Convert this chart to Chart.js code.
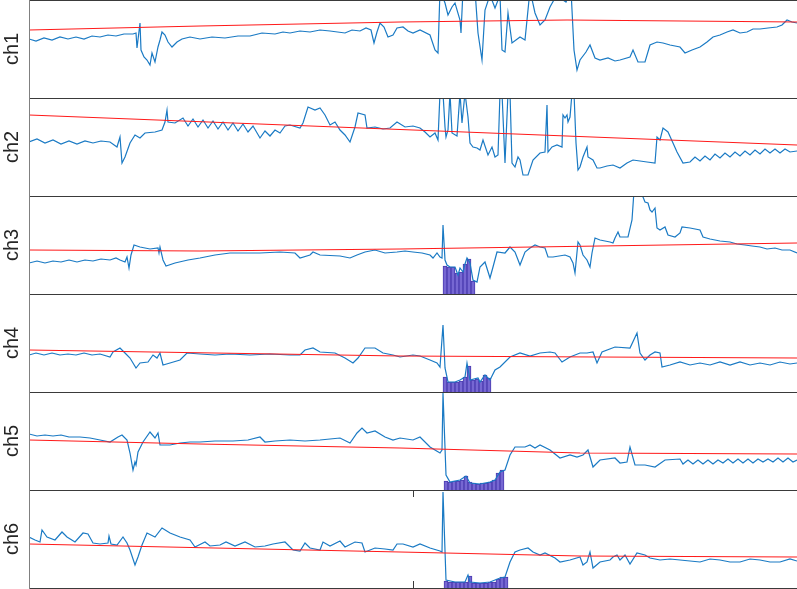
<!DOCTYPE html>
<html>
<head>
<meta charset="utf-8">
<script src="https://cdn.jsdelivr.net/npm/chart.js@4.4.0/dist/chart.umd.min.js"></script>
<style>
html,body{margin:0;padding:0;background:#fff;}
#wrap{position:relative;width:797px;height:589px;overflow:hidden;}
#wrap canvas{position:absolute;left:0;}
</style>
</head>
<body>
<div id="wrap"></div>
<script>
// channel names
const names=["ch1","ch2","ch3","ch4","ch5","ch6"];
const xTicks=[384];

// ch1
const ch1T=[0,7,15,23,31,39,47,55,63,71,79,87,95,104,107,108,111,112,115,118,121,123,126,129,131,133,136,139,143,148,153,161,171,183,196,209,221,233,246,254,261,271,281,291,301,316,323,331,337,342,345,348,351,355,359,364,368,374,379,384,391,401,406,409,411,416,419,423,426,431,432,434,441,446,449,453,456,461,466,471,473,476,479,483,491,496,501,506,511,516,521,526,531,537,542,545,548,551,557,561,566,571,579,586,591,601,604,609,616,621,628,634,641,651,656,663,671,678,684,691,698,704,711,718,724,731,739,748,753,758,763,768];
const ch1V=[59,57,60,58,61,59,61,59,62,61,63,62,64,64,65,50,75,48,41,38,33,45,36,51,58,66,63,56,51,56,59,61,59,61,60,62,62,65,64,66,65,67,66,68,67,65,68,67,70,68,55,66,75,71,61,63,70,71,67,65,68,63,48,45,108,95,83,91,95,78,65,108,108,108,65,38,88,103,90,103,48,46,85,55,61,58,108,85,73,78,91,100,100,96,108,48,28,38,46,53,40,38,40,37,38,41,48,36,36,53,56,55,53,51,45,48,51,56,61,63,66,68,65,66,69,69,70,71,73,78,76,75];
const ch1RedT=[0,171,371,538,768];
const ch1RedV=[68,72,76,78,76];

// ch2
const ch2T=[0,8,16,24,32,40,48,56,64,72,81,88,91,93,96,101,106,111,116,126,133,136,138,139,146,154,159,164,169,174,179,184,189,194,199,204,209,214,219,224,231,236,241,246,251,256,261,271,274,279,286,291,296,301,306,311,316,321,326,329,336,338,346,354,361,368,376,384,391,396,401,406,409,411,414,416,417,419,421,423,428,431,433,436,439,441,444,448,451,454,459,463,466,469,471,473,476,479,481,483,486,489,491,494,499,504,511,516,518,519,523,528,533,534,536,538,539,541,543,545,547,549,551,554,558,559,564,568,571,578,584,591,598,604,611,618,626,628,631,634,639,644,648,654,661,666,671,676,681,686,691,696,701,706,711,716,721,726,731,736,741,746,751,756,761,768];
const ch2V=[54,57,53,56,52,55,52,55,53,55,54,49,59,33,39,53,61,58,63,64,66,74,86,74,73,78,70,77,69,76,68,75,67,74,66,73,65,72,64,70,58,65,60,66,63,70,71,68,73,89,86,88,81,71,74,66,61,54,69,83,81,68,69,67,68,74,69,70,68,64,59,63,56,103,103,69,59,66,103,63,60,103,73,103,79,53,49,48,46,56,41,49,39,41,103,103,33,103,103,33,29,39,36,21,21,36,43,44,91,44,49,51,49,81,78,81,74,79,103,103,53,26,29,39,49,39,36,28,28,30,31,28,33,36,35,34,33,59,56,68,64,53,44,33,34,39,35,40,36,42,38,43,39,44,40,45,41,46,42,47,43,47,43,47,44,45];
const ch2RedT=[0,768];
const ch2RedV=[81,51];

// ch3
const ch3T=[0,8,16,24,32,40,48,56,64,72,81,87,91,96,98,100,102,105,111,121,129,130,131,134,137,146,159,171,186,201,231,251,266,271,281,284,291,311,321,328,336,346,356,368,376,384,393,401,404,408,411,413,414,416,418,421,426,429,431,434,436,438,441,444,448,451,456,461,464,468,476,481,486,491,496,501,506,511,516,519,524,536,541,544,546,549,551,554,558,561,563,566,571,581,584,586,589,591,599,603,605,608,612,614,616,619,621,623,626,628,631,636,639,646,651,653,661,671,674,681,691,701,708,716,723,731,738,746,753,761,768];
const ch3V=[31,33,31,33,32,34,32,34,33,35,34,36,34,32,37,26,39,49,47,45,46,41,47,34,28,31,34,36,39,41,41,42,41,36,39,42,39,38,36,39,42,44,41,42,43,42,41,39,36,41,37,36,69,34,29,27,27,19,26,22,30,36,31,14,12,27,32,16,27,42,41,47,42,29,42,46,49,47,46,37,37,39,37,31,21,52,49,39,34,27,41,56,54,52,51,56,62,57,57,74,103,103,101,97,92,91,84,82,86,66,64,67,59,57,61,67,66,64,57,55,53,52,50,49,48,47,45,46,44,44,41];
const ch3RedT=[0,171,371,571,768];
const ch3RedV=[44,43,45,48,51];
const ch3BarT=[416,420,424,428,432,436,440,444];
const ch3BarV=[28,27,27,21,22,30,35,13];

// ch4
const ch4T=[0,7,15,23,31,39,47,55,63,71,81,84,91,96,101,104,107,111,119,124,128,131,134,141,151,158,171,186,201,221,241,261,271,276,284,291,306,316,324,329,336,346,354,364,371,384,391,401,408,411,414,416,419,426,431,436,438,441,449,451,456,461,466,471,481,491,501,511,521,526,533,541,551,558,564,568,573,586,601,608,611,616,621,626,631,633,641,651,661,671,681,691,701,711,721,731,741,751,761,768];
const ch4V=[37,39,37,39,37,38,37,39,37,38,35,40,44,39,34,29,24,29,30,37,34,39,27,29,32,39,38,37,38,37,38,37,37,42,44,40,39,34,29,34,44,44,39,37,35,37,36,32,29,25,67,24,10,10,12,15,29,12,14,10,17,12,22,25,35,39,36,39,40,39,30,35,39,39,40,29,40,45,44,59,39,32,37,40,39,25,27,30,27,29,27,30,27,30,27,29,27,30,28,29];
const ch4RedT=[0,371,768];
const ch4RedV=[42,36,34];
const ch4BarT=[416,420,424,428,432,436,440,444,448,452,456,460];
const ch4BarV=[15,10,10,10,11,15,26,12,13,11,17,14];

// ch5
const ch5T=[0,8,16,24,32,40,51,61,71,81,89,93,98,101,104,106,107,109,114,121,126,129,131,141,151,161,171,186,204,219,231,236,246,261,276,291,301,311,321,328,333,338,346,356,364,371,384,391,401,406,411,413,414,417,421,431,437,441,451,461,466,471,476,481,486,496,501,506,511,521,531,541,548,554,559,564,571,586,591,598,601,606,616,626,636,651,654,659,664,669,674,679,684,689,694,699,704,709,714,719,724,729,734,739,744,749,754,759,764,768];
const ch5V=[56,54,55,54,55,53,53,52,50,48,53,55,50,37,20,28,25,38,48,58,52,57,45,45,47,48,48,49,49,50,53,48,49,50,49,50,51,52,47,57,62,57,59,53,50,52,50,53,43,40,37,40,97,15,8,10,14,7,6,8,10,18,20,35,43,43,45,42,45,40,32,35,33,35,40,23,30,32,27,28,43,25,25,23,30,31,26,30,26,30,26,30,26,30,27,31,27,31,27,31,27,31,28,31,28,32,28,32,28,30];
const ch5RedT=[0,171,371,551,768];
const ch5RedV=[50,46,42,37,36];
const ch5BarT=[417,421,425,429,433,437,441,445,449,453,457,461,465,469,473];
const ch5BarV=[9,8,9,9,10,14,8,7,6,7,7,8,10,17,20];

// ch6
const ch6T=[0,6,11,13,18,26,33,38,46,54,59,64,71,79,80,82,88,94,98,101,106,109,113,118,126,133,141,151,161,166,176,181,191,197,206,216,226,236,244,256,264,271,276,281,291,294,301,311,316,326,333,336,346,356,364,368,374,384,391,401,411,413,414,417,426,436,439,441,451,461,471,476,481,486,491,499,504,511,516,526,531,541,551,554,558,561,564,571,581,584,588,591,596,601,608,616,621,631,641,651,661,671,681,691,701,711,721,731,741,751,761,768];
const ch6V=[51,48,46,58,51,48,56,51,46,55,54,45,44,45,52,44,43,51,45,38,23,31,43,55,51,60,55,51,48,41,46,42,43,46,42,46,41,42,44,46,38,37,45,40,38,46,42,47,41,46,45,36,40,39,38,44,44,41,44,40,37,36,96,8,6,6,13,6,5,6,10,11,26,36,38,40,36,33,35,30,26,28,31,23,26,36,20,26,28,31,33,28,33,24,35,33,30,28,29,28,27,26,29,28,26,26,29,28,26,26,29,27];
const ch6RedT=[0,371,551,768];
const ch6RedV=[44,36,32,31];
const ch6BarT=[417,421,425,429,433,437,441,445,449,453,457,461,465,469,473,477];
const ch6BarV=[7,6,6,6,6,6,12,5,5,5,5,6,6,9,11,11];

const panels=[
    {t:ch1T,v:ch1V,rt:ch1RedT,rv:ch1RedV,bt:null,bv:null},
    {t:ch2T,v:ch2V,rt:ch2RedT,rv:ch2RedV,bt:null,bv:null},
    {t:ch3T,v:ch3V,rt:ch3RedT,rv:ch3RedV,bt:ch3BarT,bv:ch3BarV},
    {t:ch4T,v:ch4V,rt:ch4RedT,rv:ch4RedV,bt:ch4BarT,bv:ch4BarV},
    {t:ch5T,v:ch5V,rt:ch5RedT,rv:ch5RedV,bt:ch5BarT,bv:ch5BarV},
    {t:ch6T,v:ch6V,rt:ch6RedT,rv:ch6RedV,bt:ch6BarT,bv:ch6BarV}
];

function pts(t,v){
    let out=[];
    for(let i=0;i<t.length;i++) out.push({x:t[i],y:v[i]});
    return out;
}

// axes box lines (and inward ticks on the last panel)
const frame={
    id:"frame",
    afterDraw(chart,args,opts){
        const a=chart.chartArea, c=chart.ctx;
        c.save();
        c.lineWidth=1;
        c.strokeStyle="#3a3a3a";
        c.beginPath();
        c.moveTo(a.left,a.top+0.5); c.lineTo(a.right,a.top+0.5);
        if(opts.last){
            c.moveTo(a.left,a.bottom+0.5); c.lineTo(a.right,a.bottom+0.5);
            xTicks.forEach(function(tk){
                let px=Math.round(chart.scales.x.getPixelForValue(tk))+0.5;
                c.moveTo(px,a.top); c.lineTo(px,a.top+7);
                c.moveTo(px,a.bottom); c.lineTo(px,a.bottom-7);
            });
        }
        c.stroke();
        c.strokeStyle="#808080";
        c.beginPath();
        c.moveTo(a.left+0.5,a.top); c.lineTo(a.left+0.5,a.bottom+1);
        c.stroke();
        c.restore();
    }
};

const wrap=document.getElementById("wrap");
panels.forEach(function(p,i){
    let cv=document.createElement("canvas");
    cv.width=797; cv.height=99;
    cv.style.top=(i*98)+"px";
    wrap.appendChild(cv);

    let datasets=[
        {type:"line",data:pts(p.rt,p.rv),borderColor:"#FF1a1a",borderWidth:1.1,pointRadius:0,fill:false,order:0},
        {type:"line",data:pts(p.t,p.v),borderColor:"#1a7ac4",borderWidth:1.2,pointRadius:0,fill:false,order:1}
    ];
    if(p.bt){
        datasets.push({type:"bar",data:pts(p.bt,p.bv),backgroundColor:"#7667d2",borderColor:"#4a3bb0",
            borderWidth:1,barThickness:4,grouped:false,order:2});
    }

    new Chart(cv,{
        type:"line",
        data:{datasets:datasets},
        options:{
            responsive:false,
            animation:false,
            devicePixelRatio:1,
            layout:{padding:{top:0,bottom:1,left:0,right:0}},
            plugins:{legend:{display:false},tooltip:{enabled:false},frame:{last:i===panels.length-1}},
            scales:{
                x:{type:"linear",min:0,max:768,display:false,offset:false},
                y:{
                    min:0,max:98,
                    ticks:{display:false},
                    grid:{display:false},
                    border:{display:false},
                    title:{display:true,text:names[i],color:"#262626",
                        font:{size:20,family:"Liberation Sans, Arial, sans-serif"},padding:{top:0,bottom:0}},
                    afterFit:function(scale){scale.width=29;}
                }
            }
        },
        plugins:[frame]
    });
});
</script>
</body>
</html>
